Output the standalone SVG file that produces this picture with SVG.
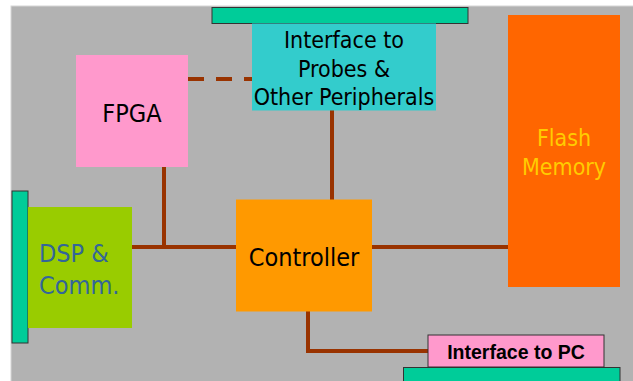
<svg xmlns="http://www.w3.org/2000/svg" width="633" height="381" viewBox="0 0 633 381">
<style>
.t{font-family:"DejaVu Sans Condensed","DejaVu Sans",sans-serif;font-stretch:condensed}
.bar{fill:#00CC99;stroke:#333333;stroke-width:1}
.ln{stroke:#993300;stroke-width:4;fill:none}
</style>
<rect x="0" y="0" width="633" height="381" fill="#FFFFFF"/>
<rect x="11" y="6" width="623" height="376" fill="#B2B2B2" stroke="#D6D6D6" stroke-width="1"/>
<g id="connectors">
<line class="ln" x1="188" y1="79" x2="252" y2="79" stroke-dasharray="16 12"/>
<line class="ln" x1="332" y1="110" x2="332" y2="200"/>
<line class="ln" x1="164" y1="167" x2="164" y2="247"/>
<line class="ln" x1="132" y1="247" x2="236" y2="247"/>
<line class="ln" x1="372" y1="247" x2="508" y2="247"/>
<polyline class="ln" points="308,311 308,351 428,351"/>
</g>
<g id="top-bar"><rect class="bar" x="212" y="7.5" width="256" height="16"/></g>
<g id="interface-probes">
<rect x="252" y="23.5" width="184" height="87" fill="#33CCCC"/>
<text class="t" font-size="23" fill="#000" text-anchor="middle"><tspan x="344" y="48">Interface to</tspan><tspan x="344" y="76.5">Probes &amp;</tspan><tspan x="344" y="105">Other Peripherals</tspan></text>
</g>
<g id="fpga">
<rect x="76" y="55" width="112" height="112" fill="#FF99CC"/>
<text class="t" x="132" y="122" font-size="25" fill="#000" text-anchor="middle">FPGA</text>
</g>
<g id="flash">
<rect x="508" y="15" width="112" height="272" fill="#FF6600"/>
<text class="t" font-size="23" fill="#FFCC00" text-anchor="middle"><tspan x="564" y="145.5">Flash</tspan><tspan x="564" y="175">Memory</tspan></text>
</g>
<g id="left-bar"><rect class="bar" x="12" y="191" width="16" height="152"/></g>
<g id="dsp">
<rect x="28" y="207" width="104" height="121" fill="#99CC00"/>
<text class="t" font-size="25" fill="#336699"><tspan x="39" y="262">DSP &amp;</tspan><tspan x="39" y="294">Comm.</tspan></text>
</g>
<g id="controller">
<rect x="236" y="199.5" width="136" height="112" fill="#FF9900"/>
<text class="t" x="304" y="266" font-size="25" fill="#000" text-anchor="middle">Controller</text>
</g>
<g id="bottom-bar"><rect class="bar" x="403.5" y="367.5" width="216.5" height="20"/></g>
<g id="interface-pc">
<rect x="428" y="335" width="176" height="32" fill="#FF99CC" stroke="#333333" stroke-width="1"/>
<text x="516" y="359" font-family="'Liberation Sans',Arial,sans-serif" font-weight="bold" font-size="19.5" fill="#000" text-anchor="middle">Interface to PC</text>
</g>
</svg>
